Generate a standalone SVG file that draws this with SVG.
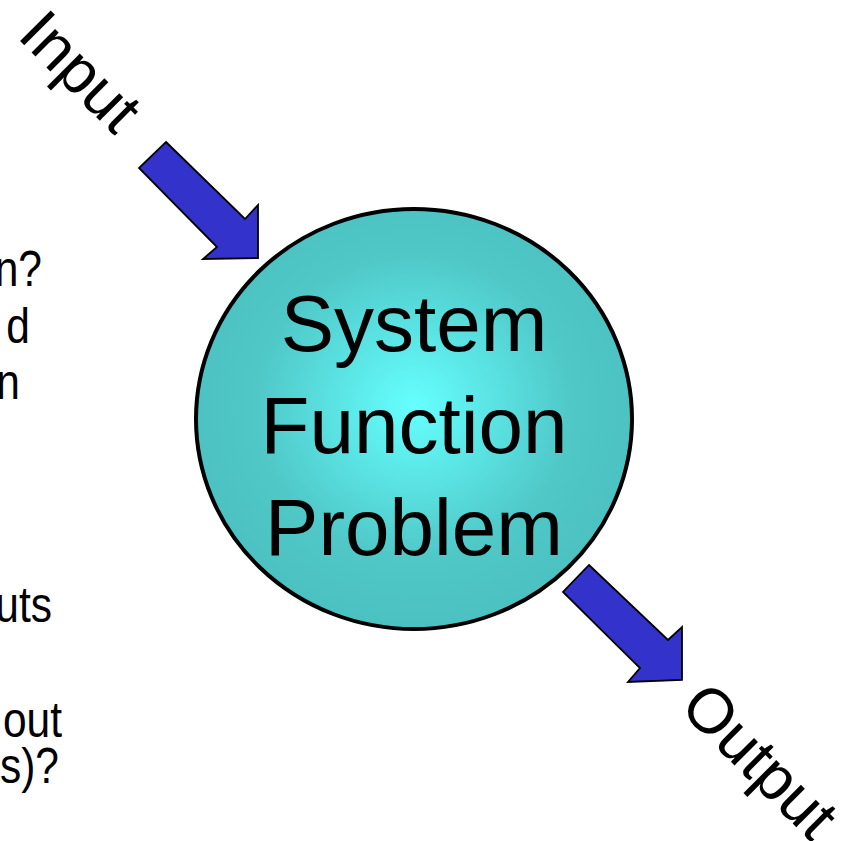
<svg xmlns="http://www.w3.org/2000/svg" width="851" height="841" viewBox="0 0 851 841">
  <defs>
    <radialGradient id="sphereFill" cx="0.5" cy="0.47" r="0.55">
      <stop offset="0" stop-color="#66ffff"/>
      <stop offset="0.65" stop-color="#50c8c8"/>
      <stop offset="1" stop-color="#4bc0c0"/>
    </radialGradient>
    <style>
      .arrow { fill: #3333cc; stroke: #000; stroke-width: 1.8; stroke-linejoin: miter; }
      .big { font-family: "Liberation Sans", Arial, sans-serif; font-size: 80px; fill: #000; text-anchor: middle; }
      .flow { font-family: "Liberation Sans", Arial, sans-serif; font-size: 63px; fill: #000; }
      .side { font-family: "Liberation Sans", Arial, sans-serif; font-size: 50px; fill: #000; text-anchor: end; }
    </style>
  </defs>
  <rect width="851" height="841" fill="#ffffff"/>

  <!-- clipped text fragments along the left edge -->
  <g id="side-notes" class="side">
    <text transform="translate(42,286) scale(0.85,1)">n?</text>
    <text transform="translate(30,343) scale(0.85,1)">d</text>
    <text transform="translate(20,399) scale(0.85,1)">n</text>
    <text transform="translate(52,622) scale(0.85,1)">uts</text>
    <text transform="translate(62,737) scale(0.85,1)">out</text>
    <text transform="translate(59,783) scale(0.85,1)">s)?</text>
  </g>

  <!-- central system node -->
  <g id="system">
    <ellipse cx="414" cy="419" rx="218" ry="210" fill="url(#sphereFill)" stroke="#000" stroke-width="4"/>
    <text class="big" x="414" y="351">System</text>
    <text class="big" x="414" y="453">Function</text>
    <text class="big" x="414" y="555">Problem</text>
  </g>

  <!-- input / output labels -->
  <g id="input">
    <text class="flow" transform="translate(16,37) rotate(45)">Input</text>
  </g>
  <g id="output">
    <text class="flow" transform="translate(678,709) rotate(45)">Output</text>
  </g>

  <!-- block arrows -->
  <g id="connectors">
    <polygon class="arrow" points="166,142 245,219 258,205 258,258 203,259 217,247 139,168"/>
    <polygon class="arrow" points="589,565 668,640 682,627 682,680 628,682 640,668 563,592"/>
  </g>
</svg>
